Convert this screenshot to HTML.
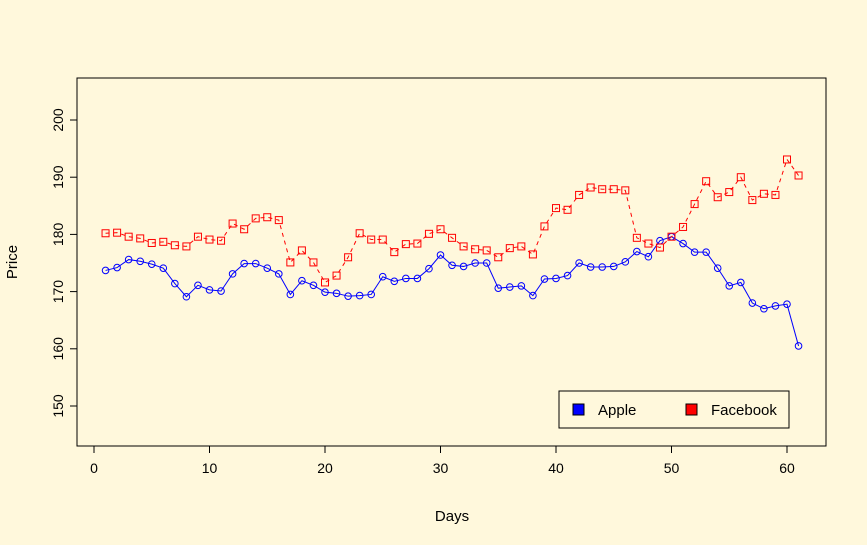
<!DOCTYPE html>
<html><head><meta charset="utf-8"><style>
body{margin:0;background:#fff8dc;}
svg{display:block;font-family:"Liberation Sans",Arial,sans-serif;}
</style></head><body>
<svg id="chart" width="867" height="545" viewBox="0 0 867 545">
<rect x="0" y="0" width="867" height="545" fill="#fff8dc"/>
<rect x="77" y="78" width="749" height="368" fill="none" stroke="#000"/>
<g id="axes"></g>
<g id="series"></g>
<text x="452" y="521" font-size="15" text-anchor="middle">Days</text>
<text transform="translate(17,262) rotate(-90)" font-size="15" text-anchor="middle">Price</text>
<g>
<rect x="559" y="391" width="230" height="37" fill="none" stroke="#000"/>
<rect x="573" y="404" width="11" height="11" fill="#0000ff" stroke="#000"/>
<text x="598" y="415" font-size="15">Apple</text>
<rect x="686" y="404" width="11" height="11" fill="#ff0000" stroke="#000"/>
<text x="711" y="415" font-size="15">Facebook</text>
</g>
</svg>
<script>
const apple=[173.7,174.2,175.6,175.3,174.8,174.1,171.4,169.1,171.1,170.3,170.1,173.1,174.9,174.9,174.1,173.1,169.5,171.9,171.1,169.9,169.7,169.2,169.3,169.5,172.6,171.8,172.3,172.3,174.0,176.4,174.6,174.4,175.0,175.0,170.6,170.8,171.0,169.3,172.2,172.3,172.8,175.0,174.3,174.3,174.4,175.2,177.0,176.1,178.9,179.6,178.4,176.9,176.9,174.1,171.0,171.6,168.0,167.0,167.5,167.8,160.5];
const facebook=[180.2,180.3,179.6,179.3,178.5,178.7,178.1,177.9,179.6,179.1,178.9,181.9,180.9,182.8,183.0,182.5,175.1,177.2,175.1,171.6,172.8,176.0,180.2,179.1,179.1,176.9,178.3,178.4,180.1,180.9,179.4,177.9,177.4,177.2,176.0,177.6,177.9,176.5,181.4,184.6,184.3,186.9,188.2,187.9,187.9,187.7,179.4,178.4,177.7,179.6,181.3,185.3,189.3,186.5,187.4,190.0,186.0,187.1,186.9,193.1,190.3];
const xTicks=[0,10,20,30,40,50,60];
const yTicks=[150,160,170,180,190,200];
const NS="http://www.w3.org/2000/svg";
function xs(d){return 94+(d)*(787-94)/60;}
function ys(v){return 406-(v-150)*(406-120)/50;}
const axes=document.getElementById('axes');
function mk(tag,attrs,parent){const e=document.createElementNS(NS,tag);for(const k in attrs)e.setAttribute(k,attrs[k]);parent.appendChild(e);return e;}
mk('line',{x1:xs(0),x2:xs(60),y1:446,y2:446,stroke:'#000'},axes);
xTicks.forEach(t=>{
 const l=mk('line',{x1:xs(t),x2:xs(t),y1:446,y2:453,stroke:'#000'},axes);
 
 
 const tx=mk('text',{x:xs(t),y:473,'font-size':14,'text-anchor':'middle'},axes);tx.textContent=t;
 
 
});
mk('line',{x1:77,x2:77,y1:ys(150),y2:ys(200),stroke:'#000'},axes);
yTicks.forEach(t=>{
 const l=mk('line',{x1:70,x2:77,y1:ys(t),y2:ys(t),stroke:'#000'},axes);
 
 
 const tx=mk('text',{transform:`translate(63,${ys(t)}) rotate(-90)`,'font-size':14,'text-anchor':'middle'},axes);tx.textContent=t;
 
 
});
const sg=document.getElementById('series');
function series(vals,color,dash,shape,name){
 const pts=vals.map((v,i)=>[xs(i+1),ys(v)]);
 const pl=mk('polyline',{points:pts.map(p=>p.join(',')).join(' '),fill:'none',stroke:color,'stroke-width':1,'stroke-dasharray':dash},sg);
 
 
 pts.forEach(p=>{
  let m;
  if(shape==='circle'){m=mk('circle',{cx:p[0],cy:p[1],r:3.3,fill:'none',stroke:color},sg);}
  else{m=mk('rect',{x:p[0]-3.5,y:p[1]-3.5,width:7,height:7,fill:'none',stroke:color},sg);}
  
  
 });
}
series(apple,'#0000ff','none','circle','apple');
series(facebook,'#ff0000','4,4','square','facebook');
</script>
</body></html>
